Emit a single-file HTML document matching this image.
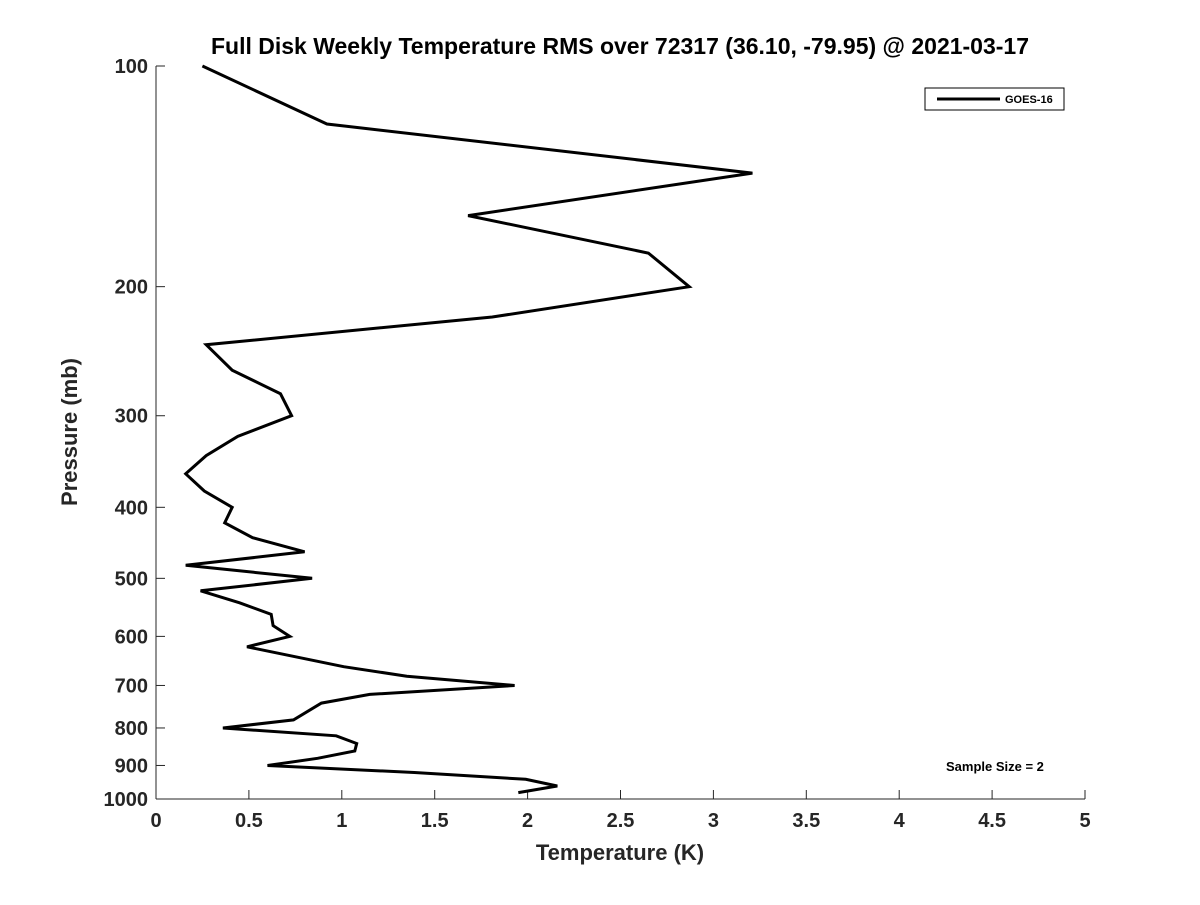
<!DOCTYPE html>
<html><head><meta charset="utf-8"><style>body{margin:0;background:#fff}svg text{font-family:"Liberation Sans","DejaVu Sans",sans-serif;font-weight:bold;fill:#262626}</style></head>
<body>
<svg id="chart" width="1200" height="900" xmlns="http://www.w3.org/2000/svg">
<text x="620" y="54" font-size="23" text-anchor="middle" style="fill:#000">Full Disk Weekly Temperature RMS over 72317 (36.10, -79.95) @ 2021-03-17</text>
<g id="axes"></g>
<polyline id="series" fill="none" stroke="#000" stroke-width="3" stroke-linejoin="miter"/>
<g>
<rect x="925" y="88" width="139" height="22" fill="#fff" stroke="#000" stroke-width="1"/>
<line x1="937" y1="99" x2="1000" y2="99" stroke="#000" stroke-width="3"/>
<text x="1005" y="103" font-size="11" style="fill:#000">GOES-16</text>
</g>
<text x="946" y="771" font-size="13" style="fill:#000">Sample Size = 2</text>
<text x="620" y="860" font-size="22" text-anchor="middle">Temperature (K)</text>
<text transform="translate(77,432) rotate(-90)" font-size="22" text-anchor="middle">Pressure (mb)</text>
</svg>
<script>
const pressures=[100,120,140,160,180,200,220,240,260,280,300,320,340,360,380,400,420,440,460,480,500,520,540,560,580,600,620,660,680,700,720,740,780,800,820,840,860,880,900,920,940,960,980];
const temps=[0.25,0.92,3.21,1.68,2.65,2.87,1.81,0.27,0.41,0.67,0.73,0.44,0.27,0.16,0.26,0.41,0.37,0.52,0.80,0.16,0.84,0.24,0.45,0.62,0.63,0.72,0.49,1.01,1.35,1.93,1.15,0.89,0.74,0.36,0.97,1.08,1.07,0.87,0.60,1.39,1.99,2.16,1.95];
const xTicks=[0,0.5,1,1.5,2,2.5,3,3.5,4,4.5,5];
const xTickLabels=["0","0.5","1","1.5","2","2.5","3","3.5","4","4.5","5"];
const yTicks=[100,200,300,400,500,600,700,800,900,1000];
const X0=156,X1=1085,Y0=66,Y1=799;
function xs(t){return X0+(t/5)*(X1-X0);}
function ys(p){return Y0+Math.log10(p/100)*(Y1-Y0);}
const ns="http://www.w3.org/2000/svg",ax=document.getElementById('axes');
function mk(tag,attrs,parent){const e=document.createElementNS(ns,tag);for(const k in attrs)e.setAttribute(k,attrs[k]);(parent||ax).appendChild(e);return e;}
const yl=mk('line',{x1:X0,y1:Y0,x2:X0,y2:Y1,stroke:'#262626','stroke-width':1});


const xl=mk('line',{x1:X0,y1:Y1,x2:X1,y2:Y1,stroke:'#262626','stroke-width':1});


xTicks.forEach((t,i)=>{
 const tk=mk('line',{x1:xs(t),y1:Y1,x2:xs(t),y2:Y1-9,stroke:'#262626'});
 
 
 const tx=mk('text',{x:xs(t),y:Y1+28,'font-size':20,'text-anchor':'middle'});
 tx.textContent=xTickLabels[i];
 
 
});
yTicks.forEach(p=>{
 const tk=mk('line',{x1:X0,y1:ys(p),x2:X0+9,y2:ys(p),stroke:'#262626'});
 
 
 const tx=mk('text',{x:X0-8,y:ys(p)+7,'font-size':20,'text-anchor':'end'});
 tx.textContent=String(p);
 
 
});
document.getElementById('series').setAttribute('points',pressures.map((p,i)=>xs(temps[i]).toFixed(1)+','+ys(p).toFixed(1)).join(' '));
</script>
</body></html>
